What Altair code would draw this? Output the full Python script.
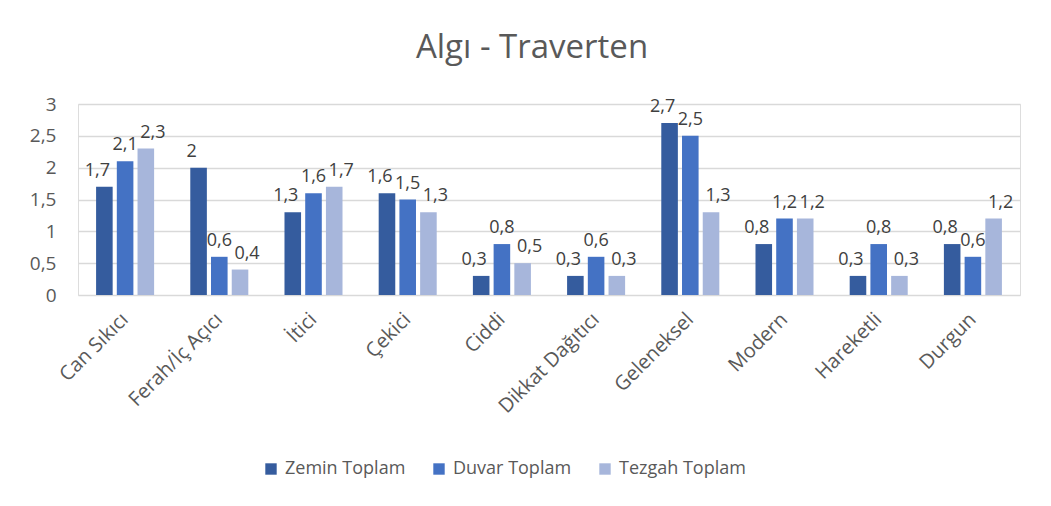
import altair as alt
import pandas as pd

categories = ["Can Sıkıcı", "Ferah/İç Açıcı", "İtici", "Çekici", "Ciddi",
              "Dikkat Dağıtıcı", "Geleneksel", "Modern", "Hareketli", "Durgun"]
series = ["Zemin Toplam", "Duvar Toplam", "Tezgah Toplam"]
zemin = [1.7, 2.0, 1.3, 1.6, 0.3, 0.3, 2.7, 0.8, 0.3, 0.8]
duvar = [2.1, 0.6, 1.6, 1.5, 0.8, 0.6, 2.5, 1.2, 0.8, 0.6]
tezgah = [2.3, 0.4, 1.7, 1.3, 0.5, 0.3, 1.3, 1.2, 0.3, 1.2]
colors = ["#355C9E", "#4472C4", "#A7B6DB"]
y_ticks = [0, 0.5, 1, 1.5, 2, 2.5, 3]

rows = []
for vals, s in zip([zemin, duvar, tezgah], series):
    for c, v in zip(categories, vals):
        rows.append({"Kategori": c, "Seri": s, "Değer": v})
df = pd.DataFrame(rows)

FONT = "Open Sans"
GREY = "#595959"

x = alt.X("Kategori:N", sort=categories, title=None,
          scale=alt.Scale(paddingInner=0.384, paddingOuter=0.192),
          axis=alt.Axis(labelAngle=-45, labelAlign="right", labelBaseline="middle",
                        labelFontSize=20, labelColor=GREY, labelFont=FONT,
                        labelPadding=21, domain=False, ticks=False, labelLimit=300,
                        labelOverlap=False))
xo = alt.XOffset("Seri:N", sort=series, scale=alt.Scale(paddingInner=0.2, paddingOuter=0))
y = alt.Y("Değer:Q", title=None,
          scale=alt.Scale(domain=[0, 3], nice=False, zero=True),
          axis=alt.Axis(values=y_ticks, domain=False, ticks=False,
                        labelOverlap=False,
                        labelFontSize=19, labelColor=GREY, labelFont=FONT, labelPadding=22,
                        gridColor="#D9D9D9", gridWidth=1.5,
                        labelExpr="replace(toString(datum.value), '.', ',')"))
color = alt.Color("Seri:N", sort=series, title=None,
                  scale=alt.Scale(domain=series, range=colors),
                  legend=alt.Legend(orient="none", direction="horizontal",
                                    legendX=184, legendY=356,
                                    symbolType="square", symbolSize=130, symbolStrokeWidth=0,
                                    labelFontSize=18, labelColor=GREY, labelFont=FONT,
                                    columnPadding=24, labelOffset=5))

bars = alt.Chart(df).mark_bar().encode(x=x, xOffset=xo, y=y, color=color)

label_dx = {"Zemin Toplam": -7, "Duvar Toplam": 0, "Tezgah Toplam": 7}
label_layers = []
for s in series:
    label_layers.append(
        alt.Chart(df).transform_filter(alt.datum["Seri"] == s).transform_calculate(
            lbl="replace(toString(datum['Değer']), '.', ',')"
        ).mark_text(baseline="alphabetic", dy=-11, dx=label_dx[s], fontSize=18,
                    font=FONT, color="#404040").encode(
            x=x,
            xOffset=xo,
            y=y,
            text="lbl:N",
        )
    )

chart = alt.layer(bars, *label_layers).properties(
    width=942, height=191,
    title=alt.TitleParams("Algı - Traverten", fontSize=33, font=FONT, color=GREY,
                          fontWeight="normal", anchor="middle", dx=-17, offset=30),
    autosize=alt.AutoSizeParams(type="none"),
    padding={"left": 70, "top": 96, "right": 23, "bottom": 195},
).configure_view(stroke=None).configure(background="white")

chart.save("out.html", embed_options={"renderer": "svg", "actions": False})
